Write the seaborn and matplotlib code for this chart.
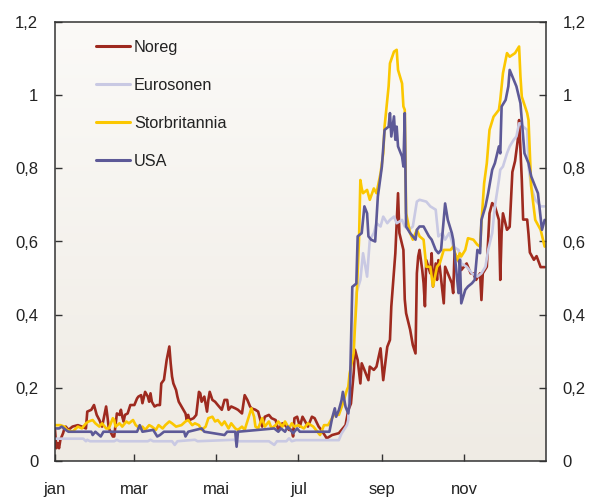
import numpy as np
import pandas as pd
import matplotlib
matplotlib.use("Agg")
import matplotlib.pyplot as plt
import seaborn as sns

# Risk premium in the 3-month money market, 2007 (percentage points)
# Each series: day of year and value
noreg_day = [1, 2, 3, 4, 5, 7, 8, 9, 11, 14, 18, 21, 24, 25, 28, 30, 31, 32, 34, 36, 39, 40, 41, 44, 45, 47, 49, 50, 51, 52,
             53, 55, 57, 60, 62, 63, 65, 66, 68, 70, 71, 72, 73, 75, 77, 79, 80, 82, 83, 84, 86, 87, 88, 89, 91, 92, 93, 95,
             98, 99, 100, 101, 104, 106, 108, 109, 110, 112, 114, 115, 116, 118, 120, 122, 125, 127, 129, 130, 132, 135,
             137, 140, 142, 144, 146, 147, 150, 152, 155, 157, 160, 162, 165, 167, 170, 172, 175, 177, 178, 179, 181, 183,
             185, 187, 189, 192, 194, 197, 199, 203, 207, 212, 217, 219, 221, 223, 224, 226, 228, 229, 231, 234, 235, 238,
             240, 243, 245, 248, 250, 251, 254, 256, 257, 260, 261, 262, 265, 267, 269, 270, 271, 272, 274, 275, 276, 277,
             280, 281, 282, 284, 285, 286, 287, 290, 291, 293, 296, 297, 298, 301, 303, 305, 307, 310, 312, 314, 317, 318,
             319, 322, 324, 326, 328, 331, 332, 333, 334, 337, 339, 341, 343, 345, 346, 348, 349, 352, 353, 354, 357, 359,
             362, 365]
noreg_val = [0.085, 0.035, 0.049, 0.035, 0.058, 0.076, 0.089, 0.094, 0.085, 0.094, 0.098, 0.094, 0.089, 0.135, 0.140,
             0.153, 0.140, 0.126, 0.112, 0.094, 0.149, 0.121, 0.089, 0.067, 0.067, 0.130, 0.126, 0.140, 0.121, 0.108,
             0.126, 0.130, 0.153, 0.153, 0.171, 0.176, 0.180, 0.158, 0.189, 0.176, 0.162, 0.185, 0.162, 0.149, 0.153,
             0.153, 0.212, 0.222, 0.249, 0.276, 0.313, 0.267, 0.231, 0.212, 0.194, 0.176, 0.162, 0.149, 0.130, 0.112,
             0.126, 0.112, 0.117, 0.126, 0.189, 0.185, 0.162, 0.176, 0.135, 0.167, 0.189, 0.167, 0.162, 0.153, 0.140,
             0.167, 0.167, 0.140, 0.149, 0.144, 0.140, 0.130, 0.180, 0.167, 0.149, 0.144, 0.140, 0.135, 0.094, 0.121,
             0.126, 0.117, 0.112, 0.085, 0.103, 0.098, 0.085, 0.085, 0.067, 0.117, 0.121, 0.094, 0.121, 0.108, 0.094,
             0.121, 0.117, 0.094, 0.085, 0.062, 0.071, 0.076, 0.098, 0.139, 0.157, 0.239, 0.304, 0.276, 0.212, 0.267,
             0.249, 0.221, 0.258, 0.249, 0.258, 0.308, 0.221, 0.312, 0.331, 0.422, 0.568, 0.732, 0.623, 0.577, 0.442,
             0.404, 0.359, 0.317, 0.294, 0.513, 0.559, 0.577, 0.522, 0.486, 0.423, 0.549, 0.513, 0.568, 0.477, 0.540,
             0.495, 0.549, 0.531, 0.431, 0.531, 0.513, 0.486, 0.459, 0.568, 0.549, 0.522, 0.531, 0.540, 0.513, 0.513,
             0.495, 0.513, 0.440, 0.513, 0.531, 0.677, 0.705, 0.696, 0.659, 0.495, 0.623, 0.677, 0.632, 0.640, 0.790,
             0.820, 0.877, 0.932, 0.770, 0.660, 0.660, 0.620, 0.570, 0.550, 0.560, 0.530, 0.530]

euro_day = [1, 22, 24, 25, 27, 45, 47, 49, 70, 72, 74, 88, 90, 92, 105, 107, 134, 136, 160, 164, 166, 173, 175, 177, 180,
            212, 214, 218, 219, 220, 223, 225, 228, 230, 233, 235, 238, 240, 243, 245, 248, 250, 253, 255, 259, 261, 264,
            267, 270, 272, 277, 280, 284, 286, 289, 291, 294, 295, 297, 301, 303, 307, 311, 315, 318, 321, 323, 326, 328,
            331, 332, 334, 337, 339, 342, 344, 346, 347, 349, 352, 353, 355, 358, 362, 365]
euro_val = [0.061, 0.061, 0.054, 0.058, 0.054, 0.054, 0.058, 0.054, 0.054, 0.058, 0.054, 0.054, 0.044, 0.054, 0.058,
            0.054, 0.058, 0.054, 0.054, 0.044, 0.054, 0.054, 0.062, 0.054, 0.057, 0.057, 0.075, 0.098, 0.112, 0.203,
            0.339, 0.459, 0.495, 0.568, 0.504, 0.604, 0.623, 0.650, 0.641, 0.668, 0.650, 0.659, 0.668, 0.650, 0.659,
            0.641, 0.632, 0.641, 0.709, 0.714, 0.709, 0.696, 0.687, 0.614, 0.623, 0.605, 0.623, 0.614, 0.586, 0.577,
            0.540, 0.531, 0.513, 0.504, 0.513, 0.531, 0.577, 0.623, 0.696, 0.768, 0.796, 0.805, 0.841, 0.860, 0.878,
            0.887, 0.923, 0.923, 0.914, 0.905, 0.805, 0.750, 0.714, 0.696, 0.696]

uk_day = [1, 5, 8, 10, 14, 18, 21, 24, 26, 29, 31, 34, 36, 39, 41, 44, 45, 46, 49, 51, 54, 56, 59, 61, 64, 66, 68, 71, 73,
          76, 78, 81, 83, 86, 88, 91, 95, 98, 100, 103, 105, 108, 110, 113, 115, 118, 120, 122, 125, 127, 130, 132, 135,
          137, 140, 142, 145, 147, 149, 150, 152, 155, 157, 160, 162, 165, 167, 170, 172, 175, 177, 179, 182, 186, 189,
          193, 198, 201, 204, 209, 212, 215, 218, 219, 220, 223, 224, 225, 227, 228, 229, 230, 233, 235, 238, 240, 243,
          245, 246, 249, 250, 253, 255, 256, 259, 260, 261, 262, 265, 267, 270, 272, 275, 276, 277, 280, 282, 285, 287,
          290, 295, 297, 300, 302, 303, 306, 308, 312, 315, 317, 318, 320, 322, 324, 327, 331, 332, 334, 337, 339, 343,
          346, 347, 348, 352, 353, 355, 358, 362, 365]
uk_val = [0.098, 0.098, 0.094, 0.085, 0.080, 0.094, 0.089, 0.103, 0.108, 0.112, 0.103, 0.094, 0.103, 0.089, 0.089, 0.117,
          0.112, 0.094, 0.103, 0.094, 0.108, 0.103, 0.112, 0.098, 0.089, 0.094, 0.085, 0.098, 0.094, 0.085, 0.098, 0.089,
          0.098, 0.108, 0.103, 0.094, 0.098, 0.108, 0.112, 0.098, 0.103, 0.098, 0.085, 0.094, 0.117, 0.121, 0.108, 0.112,
          0.098, 0.108, 0.089, 0.103, 0.089, 0.085, 0.094, 0.085, 0.121, 0.144, 0.121, 0.094, 0.089, 0.117, 0.094, 0.108,
          0.089, 0.098, 0.108, 0.094, 0.108, 0.089, 0.103, 0.094, 0.098, 0.089, 0.103, 0.094, 0.071, 0.098, 0.098, 0.130,
          0.126, 0.157, 0.194, 0.203, 0.239, 0.294, 0.367, 0.431, 0.604, 0.768, 0.745, 0.732, 0.741, 0.714, 0.745, 0.732,
          0.786, 0.841, 0.914, 1.024, 1.087, 1.119, 1.124, 1.069, 1.032, 0.969, 0.960, 0.677, 0.623, 0.605, 0.632, 0.614,
          0.605, 0.568, 0.531, 0.531, 0.477, 0.531, 0.540, 0.577, 0.577, 0.586, 0.549, 0.568, 0.559, 0.577, 0.609, 0.605,
          0.591, 0.586, 0.650, 0.759, 0.814, 0.905, 0.941, 0.960, 0.987, 1.060, 1.115, 1.105, 1.115, 1.133, 1.051, 0.996,
          0.951, 0.932, 0.750, 0.659, 0.632, 0.586]

usa_day = [1, 4, 6, 9, 11, 28, 29, 31, 35, 37, 62, 64, 66, 74, 77, 79, 82, 97, 98, 100, 110, 112, 127, 129, 135, 136, 137,
           164, 167, 169, 172, 174, 178, 181, 183, 205, 207, 209, 210, 212, 214, 215, 217, 219, 220, 222, 225, 226, 229,
           231, 233, 234, 236, 239, 241, 244, 246, 249, 250, 251, 253, 254, 255, 256, 259, 260, 261, 262, 265, 267, 269,
           270, 272, 275, 279, 281, 284, 286, 288, 291, 293, 296, 297, 298, 300, 301, 302, 303, 306, 308, 311, 313, 315,
           317, 318, 321, 323, 326, 328, 331, 332, 333, 336, 338, 339, 342, 344, 347, 348, 350, 353, 355, 358, 360, 363,
           365]
usa_val = [0.089, 0.089, 0.094, 0.085, 0.080, 0.080, 0.071, 0.080, 0.067, 0.080, 0.080, 0.098, 0.080, 0.085, 0.067,
           0.071, 0.080, 0.080, 0.067, 0.080, 0.089, 0.080, 0.071, 0.080, 0.080, 0.039, 0.080, 0.089, 0.080, 0.089,
           0.080, 0.094, 0.076, 0.089, 0.080, 0.080, 0.117, 0.144, 0.121, 0.139, 0.166, 0.189, 0.148, 0.130, 0.157,
           0.476, 0.485, 0.614, 0.623, 0.696, 0.677, 0.614, 0.605, 0.600, 0.723, 0.805, 0.905, 0.914, 0.951, 0.887,
           0.942, 0.878, 0.914, 0.860, 0.832, 0.805, 0.951, 0.641, 0.623, 0.614, 0.605, 0.632, 0.641, 0.641, 0.614,
           0.605, 0.577, 0.568, 0.577, 0.704, 0.659, 0.623, 0.605, 0.568, 0.495, 0.459, 0.550, 0.431, 0.468, 0.477,
           0.486, 0.495, 0.577, 0.568, 0.659, 0.696, 0.732, 0.796, 0.814, 0.860, 0.841, 0.969, 0.987, 1.024, 1.069,
           1.042, 1.024, 0.978, 0.932, 0.841, 0.814, 0.778, 0.750, 0.732, 0.632, 0.659]

series_names = ["Noreg", "Eurosonen", "Storbritannia", "USA"]
series_colors = ["#9e2a1f", "#c9c9e3", "#fbc700", "#5d5997"]
month_ticks = ["2007-01-01", "2007-03-01", "2007-05-01", "2007-07-01", "2007-09-01", "2007-11-01"]
month_labels = ["jan", "mar", "mai", "jul", "sep", "nov"]
y_ticks = [0, 0.2, 0.4, 0.6, 0.8, 1.0, 1.2]
y_labels = ["0", "0,2", "0,4", "0,6", "0,8", "1", "1,2"]

start = pd.Timestamp("2007-01-01")
frames = []
for name, days, vals in zip(series_names,
                            [noreg_day, euro_day, uk_day, usa_day],
                            [noreg_val, euro_val, uk_val, usa_val]):
    frames.append(pd.DataFrame({
        "dato": start + pd.to_timedelta(np.array(days) - 1, unit="D"),
        "verdi": vals,
        "serie": name,
    }))
df = pd.concat(frames, ignore_index=True)

sns.set_theme(style="white")
plt.rcParams["font.family"] = ["Liberation Sans", "DejaVu Sans"]

fig = plt.figure(figsize=(5.92, 4.98), dpi=100)
ax = fig.add_axes([55 / 592, 37 / 498, 491 / 592, 439 / 498])

# soft vertical background gradient inside the plot area
grad = np.linspace(0, 1, 256).reshape(-1, 1)
top_c = np.array([0.985, 0.980, 0.970])
bot_c = np.array([0.937, 0.922, 0.894])
img = top_c[None, None, :] * (1 - grad[..., None]) + bot_c[None, None, :] * grad[..., None]
ax.imshow(img, extent=[0, 1, 0, 1], transform=ax.transAxes, aspect="auto", zorder=0)

sns.lineplot(data=df, x="dato", y="verdi", hue="serie", hue_order=series_names,
             palette=dict(zip(series_names, series_colors)), estimator=None,
             sort=False, linewidth=1.9, ax=ax, legend=True)

ax.set_xlim(pd.Timestamp("2007-01-01"), pd.Timestamp("2008-01-01"))
ax.set_ylim(0, 1.2)
ax.set_xlabel("")
ax.set_ylabel("")

ax.set_xticks(pd.to_datetime(month_ticks))
ax.set_xticklabels(month_labels)
ax.set_yticks(y_ticks)
ax.set_yticklabels(y_labels)

ax.tick_params(axis="y", which="both", direction="in", length=5, width=1.0, color="#333333",
               left=True, right=True, labelleft=True, labelright=True, labelsize=12, pad=12,
               labelcolor="#222222")
ax.tick_params(axis="x", direction="in", length=5, width=1.0, color="#333333", bottom=True,
               labelsize=12, pad=15, labelcolor="#222222")

for s in ax.spines.values():
    s.set_visible(True)
    s.set_color("#333333")
    s.set_linewidth(1.1)

handles, labels = ax.get_legend_handles_labels()
leg = ax.legend(handles, labels, loc="upper left", bbox_to_anchor=(0.083, 0.96), frameon=False,
                fontsize=11.7, handlelength=2.1, handletextpad=0.25, labelspacing=1.42, borderpad=0,
                borderaxespad=0)
for h in leg.get_lines():
    h.set_linewidth(2.2)
for t in leg.get_texts():
    t.set_color("#222222")

fig.savefig("out.png", dpi=100, facecolor="white")
